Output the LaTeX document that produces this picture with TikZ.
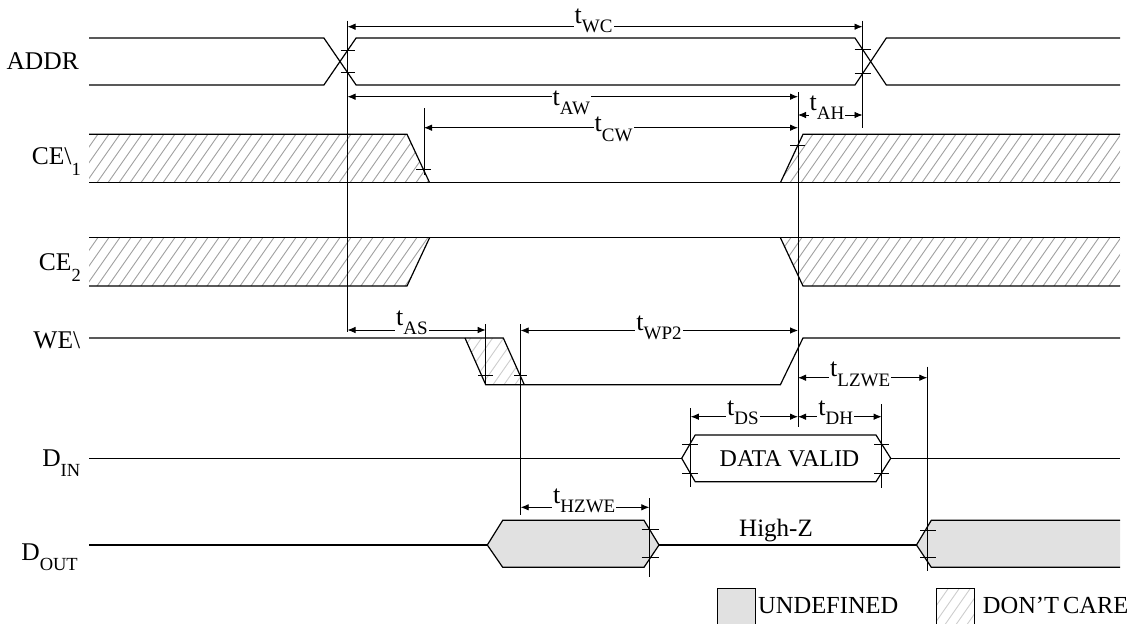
\documentclass[tikz,border=0pt]{standalone}
\usepackage{fontspec}
\setmainfont{Liberation Serif}
\usetikzlibrary{arrows.meta}
\definecolor{undef}{RGB}{225,225,225}
\definecolor{hatchc}{RGB}{160,160,160}
\definecolor{hatchlt}{RGB}{205,205,205}
\newcommand{\tsubx}[1]{t\raisebox{-9.5pt}{\fontsize{19}{19}\selectfont #1}}
\newcommand{\ssubx}[2]{\raisebox{-#1pt}{\fontsize{18.5}{18.5}\selectfont #2}}
\newcommand{\hatchregion}[4]{% #1 clip path, #2 ytop, #3 ybottom, #4 colour
  \begin{scope}
    \clip #1;
    \foreach \hx in {20,31,...,1140} {\draw[hatchline,#4] (\hx,#3) -- ({\hx+0.7*(#3-#2)},#2);}
  \end{scope}}
\begin{document}
\begin{tikzpicture}[x=1pt,y=-1pt,
  sig/.style={line width=1.2pt,black,line join=miter},
  dimline/.style={line width=0.8pt,black},
  dimarrow/.style={dimline,{Latex[length=8pt,width=6.5pt]}-{Latex[length=8pt,width=6.5pt]}},
  tickln/.style={line width=0.8pt,black},
  hatchline/.style={line width=0.9pt},
  tlabel/.style={fill=white,inner sep=1pt,anchor=base west,font=\fontsize{26}{26}\selectfont},
  siglabel/.style={anchor=base east,inner sep=0pt,font=\fontsize{25.5}{25.5}\selectfont},
  plain/.style={inner sep=0pt,font=\fontsize{24.5}{24.5}\selectfont}]
\useasboundingbox (0,0) rectangle (1133,624);

% ---------- hatched (don't care) regions ----------
\hatchregion{(89,134.3)--(407,134.3)--(429.6,182.7)--(89,182.7)--cycle}{134.3}{182.7}{hatchc}
\hatchregion{(780.4,182.7)--(803,134.3)--(1120,134.3)--(1120,182.7)--cycle}{134.3}{182.7}{hatchc}
\hatchregion{(89,237.7)--(429.6,237.7)--(407,286)--(89,286)--cycle}{237.7}{286}{hatchc}
\hatchregion{(780.4,237.7)--(1120,237.7)--(1120,286)--(803,286)--cycle}{237.7}{286}{hatchc}
\hatchregion{(465,338)--(503.3,338)--(524.3,384.7)--(485.7,384.7)--cycle}{338}{384.7}{hatchlt}

% ---------- undefined (grey) regions ----------
\fill[undef] (487.3,545) -- (502.7,520.3) -- (644,520.3) -- (659,545) -- (644,567.3) -- (502.7,567.3) -- cycle;
\fill[undef] (916.5,545) -- (931.3,520.3) -- (1120,520.3) -- (1120,567.3) -- (931.3,567.3) -- cycle;

% ---------- signal labels ----------
\node[siglabel] (laddr) at (79,69.3) {ADDR};
\node[siglabel] (lce1) at (81,164.3) {CE\textbackslash\ssubx{10.7}{1}};
\node[siglabel] (lce2) at (81,270.7) {CE\ssubx{11}{2}};
\node[siglabel] (lwe) at (80.4,348.3) {WE\textbackslash};
\node[siglabel] (ldin) at (80.4,466.7) {D\ssubx{10}{IN}};
\node[siglabel] (ldout) at (78,560) {D\ssubx{10}{OUT}};

% ---------- ADDR ----------
\draw[sig] (89,38) -- (323.9,38) -- (356.1,85) -- (855,85) -- (886.3,38) -- (1120,38);
\draw[sig] (89,85) -- (323.9,85) -- (356.1,38) -- (855,38) -- (886.3,85) -- (1120,85);

% ---------- CE1 ----------
\draw[sig] (89,134.3) -- (407,134.3) -- (429.6,182.7);
\draw[sig] (89,182.7) -- (1120,182.7);
\draw[sig] (780.4,182.7) -- (803,134.3) -- (1120,134.3);

% ---------- CE2 ----------
\draw[sig] (89,237.7) -- (1120,237.7);
\draw[sig] (89,286) -- (407,286) -- (429.6,237.7);
\draw[sig] (780.4,237.7) -- (803,286) -- (1120,286);

% ---------- WE ----------
\draw[sig] (89,338) -- (503.3,338) -- (524.3,384.7);
\draw[sig] (465,338) -- (485.7,384.7) -- (780.4,384.7) -- (803,338) -- (1120,338);

% ---------- DIN ----------
\draw[sig] (89,458.3) -- (681.7,458.3);
\draw[sig] (681.7,458.3) -- (695.2,435) -- (876,435) -- (890.7,458.3) -- (876,481.7) -- (695.2,481.7) -- cycle;
\draw[sig] (890.7,458.3) -- (1120,458.3);
\node[plain,anchor=base,font=\fontsize{24}{24}\selectfont] (dv) at (789.5,466.7) {DATA VALID};

% ---------- DOUT ----------
\draw[sig] (89,545) -- (487.3,545);
\draw[sig] (487.3,545) -- (502.7,520.3) -- (644,520.3) -- (659,545) -- (644,567.3) -- (502.7,567.3) -- cycle;
\draw[sig] (659,545) -- (916.5,545);
\draw[sig] (1120,520.3) -- (931.3,520.3) -- (916.5,545) -- (931.3,567.3) -- (1120,567.3);
\node[plain,anchor=base west,font=\fontsize{25}{25}\selectfont] (hz) at (739,536.7) {High-Z};

% ---------- reference verticals ----------
\coordinate (v1t) at (347.5,20.7);  \coordinate (v1b) at (347.5,332.3);
\coordinate (v2t) at (862.5,20.7);  \coordinate (v2b) at (862.5,128.3);
\coordinate (v3t) at (424,108.3);   \coordinate (v3b) at (424,175);
\coordinate (v4t) at (798,92);      \coordinate (v4b) at (798,426.7);
\coordinate (v5t) at (485.7,324);   \coordinate (v5b) at (485.7,384.7);
\coordinate (v6t) at (520.7,324);   \coordinate (v6b) at (520.7,515);
\coordinate (v7t) at (927.3,366.7); \coordinate (v7b) at (927.3,570.7);
\coordinate (v8t) at (690.8,408);   \coordinate (v8b) at (690.8,486.7);
\coordinate (v9t) at (881.6,404);   \coordinate (v9b) at (881.6,488);
\coordinate (v10t) at (649.3,498.3); \coordinate (v10b) at (649.3,576.7);
\foreach \v in {1,...,10} {\draw[dimline] (v\v t) -- (v\v b);}

% ---------- crossing ticks ----------
\draw[tickln] (340.5,50.6) -- (354.5,50.6);
\draw[tickln] (340.5,72.4) -- (354.5,72.4);
\draw[tickln] (854.5,49.3) -- (870.5,49.3);
\draw[tickln] (854.5,73) -- (870.5,73);
\draw[tickln] (416,169.5) -- (431,169.5);
\draw[tickln] (790,145.7) -- (805,145.7);
\draw[tickln] (478,375.7) -- (492.7,375.7);
\draw[tickln] (514,375.7) -- (527,375.7);
\draw[tickln] (682.4,444) -- (697.5,444);
\draw[tickln] (682.4,473.5) -- (697.5,473.5);
\draw[tickln] (874,444) -- (889,444);
\draw[tickln] (874,473.5) -- (889,473.5);
\draw[tickln] (641.7,529.3) -- (659,529.3);
\draw[tickln] (641.7,557.7) -- (659,557.7);
\draw[tickln] (920,530) -- (936.4,530);
\draw[tickln] (920,557.7) -- (936.4,557.7);

% ---------- timing arrows ----------
\coordinate (wcL) at (347.5,26.7);  \coordinate (wcR) at (862.5,26.7);
\coordinate (awL) at (347.5,96.7);  \coordinate (awR) at (798,96.7);
\coordinate (ahL) at (798,115);     \coordinate (ahR) at (862.5,115);
\coordinate (cwL) at (424,127.7);   \coordinate (cwR) at (798,127.7);
\coordinate (asL) at (347.5,330);   \coordinate (asR) at (485.7,330);
\coordinate (wpL) at (520.7,330.5); \coordinate (wpR) at (798,330.5);
\coordinate (lzL) at (798,377.7);   \coordinate (lzR) at (927.3,377.7);
\coordinate (dsL) at (690.8,416.7); \coordinate (dsR) at (798,416.7);
\coordinate (dhL) at (798,416.7);   \coordinate (dhR) at (881.6,416.7);
\coordinate (hzL) at (520.7,507.3); \coordinate (hzR) at (649.3,507.3);
\draw[dimarrow] (wcL) -- (wcR);
\draw[dimarrow] (awL) -- (awR);
\draw[dimarrow] (ahL) -- (ahR);
\draw[dimarrow] (cwL) -- (cwR);
\draw[dimarrow] (asL) -- (asR);
\draw[dimarrow] (wpL) -- (wpR);
\draw[dimarrow] (lzL) -- (lzR);
\draw[dimarrow] (dsL) -- (dsR);
\draw[dimarrow] (dhL) -- (dhR);
\draw[dimarrow] (hzL) -- (hzR);

\node[tlabel] (twc) at (573.5,23.3) {\tsubx{WC}};
\node[tlabel] (taw) at (551.5,105) {\tsubx{AW}};
\node[tlabel] (tah) at (808.5,110) {\tsubx{AH}};
\node[tlabel] (tcw) at (593.5,131.7) {\tsubx{CW}};
\node[tlabel] (tas) at (395,325) {\tsubx{AS}};
\node[tlabel] (twp) at (635.2,330) {\tsubx{WP2}};
\node[tlabel] (tlz) at (829,376.7) {\tsubx{LZWE}};
\node[tlabel] (tds) at (726,415) {\tsubx{DS}};
\node[tlabel] (tdh) at (817.2,415) {\tsubx{DH}};
\node[tlabel] (thz) at (552,503.3) {\tsubx{HZWE}};

% ---------- legend ----------
\fill[undef] (717.3,588.3) rectangle (755,626);
\draw[dimline] (717.3,626) -- (717.3,588.3) -- (755,588.3) -- (755,626);
\node[plain,anchor=base west] (lgu) at (758,613.3) {UNDEFINED};
\hatchregion{(936,588.3) rectangle (974,626)}{588.3}{626}{hatchlt}
\draw[dimline] (936,626) -- (936,588.3) -- (974,588.3) -- (974,626);
\node[plain,anchor=base west] (lgd) at (982.7,613.3) {DON’T\hspace{4pt}CARE};
\end{tikzpicture}
\end{document}
